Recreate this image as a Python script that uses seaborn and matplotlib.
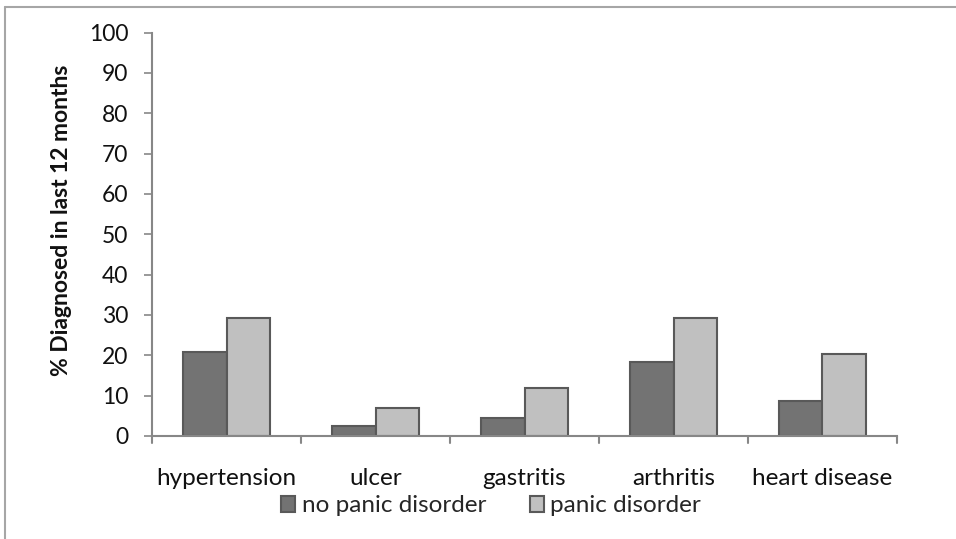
import matplotlib
matplotlib.use("Agg")
import matplotlib.pyplot as plt
from matplotlib.lines import Line2D
import seaborn as sns
import pandas as pd

conditions = ["hypertension", "ulcer", "gastritis", "arthritis", "heart disease"]
no_panic = [20.8, 2.5, 4.5, 18.3, 8.7]
panic = [29.3, 7.0, 12.0, 29.2, 20.2]
groups = ["no panic disorder", "panic disorder"]
y_ticks = [0, 10, 20, 30, 40, 50, 60, 70, 80, 90, 100]

df = pd.DataFrame({
    "condition": conditions * 2,
    "group": [groups[0]] * len(conditions) + [groups[1]] * len(conditions),
    "pct": no_panic + panic,
})

sns.set_theme(style="white")
plt.rcParams["font.family"] = ["Lato", "DejaVu Sans"]

axis_grey = "#878787"
text_col = "#111111"
fig = plt.figure(figsize=(9.56, 5.39), dpi=100)
ax = fig.add_axes([152 / 956, 1 - 436 / 539, (897 - 152) / 956, (436 - 32.5) / 539])

sns.barplot(
    data=df, x="condition", y="pct", hue="group",
    palette=["#737373", "#c0c0c0"], width=0.58, gap=0,
    edgecolor="#595959", linewidth=1.5, ax=ax, legend=True,
)

ax.set_ylim(0, 100)
ax.set_xlim(-0.5, len(conditions) - 0.5)
ax.set_yticks(y_ticks)
ax.set_yticklabels([str(t) for t in y_ticks], fontsize=16.5, color=text_col)
ax.set_xticks(range(len(conditions)))
ax.set_xticklabels(conditions, fontsize=17.5, color=text_col)
ax.tick_params(axis="x", length=0, pad=23)
ax.tick_params(axis="y", length=6, width=1.2, color=axis_grey, pad=11, left=True)
ax.set_xlabel("")
ax.set_ylabel("% Diagnosed in last 12 months", fontsize=16.5, fontweight="bold",
              color=text_col)
ax.yaxis.set_label_coords(-0.108, 0.535)

for side in ["top", "right"]:
    ax.spines[side].set_visible(False)
for side in ["left", "bottom"]:
    ax.spines[side].set_color(axis_grey)
    ax.spines[side].set_linewidth(1.5)

# category divider ticks below the x axis
for b in [i - 0.5 for i in range(len(conditions) + 1)]:
    ax.plot([b, b], [0, -1.7], color=axis_grey, lw=1.5, clip_on=False)

handles, labels = ax.get_legend_handles_labels()
ax.legend(handles, labels, loc="upper center", bbox_to_anchor=(0.455, -0.147),
          ncol=2, frameon=False, fontsize=17.5, handlelength=0.6, handleheight=0.65,
          handletextpad=0.25, columnspacing=1.8, borderaxespad=0, borderpad=0)

# outer chart frame
fig.add_artist(Line2D([5 / 956, 1], [1 - 7 / 539, 1 - 7 / 539], color="#a6a6a6", lw=1.5,
                      transform=fig.transFigure))
fig.add_artist(Line2D([5 / 956, 5 / 956], [0, 1 - 7 / 539], color="#a6a6a6", lw=1.5,
                      transform=fig.transFigure))

fig.savefig("out.png", dpi=100)
